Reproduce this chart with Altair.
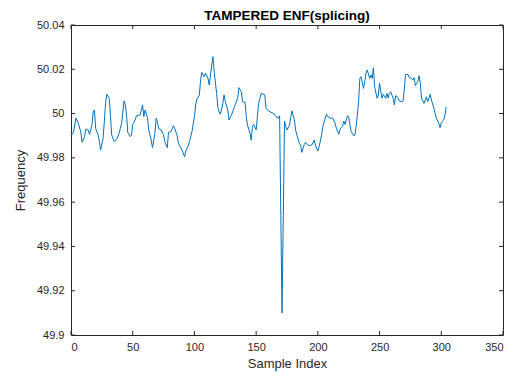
import altair as alt
import pandas as pd

# Sample index and frequency values
sample_index = [0, 2, 4, 6, 8, 9, 11, 12, 14, 15, 17, 18, 19, 20, 22, 23, 24, 26, 27, 28,
                29, 31, 32, 33, 35, 36, 37, 39, 40, 41, 43, 44, 45, 46, 48, 49, 50, 52, 53, 55,
                56, 58, 59, 60, 62, 63, 65, 66, 68, 69, 70, 71, 73, 75, 76, 78, 79, 81, 83, 84,
                86, 87, 90, 92, 93, 95, 96, 98, 100, 101, 102, 104, 105, 106, 108, 109, 111, 112, 114, 115,
                116, 118, 119, 120, 121, 123, 124, 125, 127, 128, 130, 132, 133, 135, 136, 138, 139, 141, 142, 143,
                145, 146, 147, 148, 150, 151, 152, 154, 155, 157, 158, 160, 162, 164, 166, 168, 169, 170, 171, 172,
                173, 174, 175, 177, 178, 179, 181, 182, 183, 185, 186, 187, 189, 190, 192, 193, 195, 197, 198, 200,
                201, 203, 204, 206, 207, 208, 210, 211, 212, 214, 215, 217, 218, 220, 221, 222, 224, 225, 226, 227,
                229, 230, 231, 232, 233, 234, 235, 237, 238, 239, 240, 242, 243, 244, 245, 246, 248, 249, 250, 251,
                252, 253, 255, 256, 257, 258, 259, 261, 262, 263, 265, 266, 268, 269, 270, 271, 273, 274, 276, 277,
                278, 279, 280, 281, 282, 283, 284, 286, 287, 288, 289, 290, 291, 292, 294, 295, 296, 298, 299, 300,
                302, 303, 304]
frequency = [49.9900, 49.9915, 49.9980, 49.9956, 49.9915, 49.9870, 49.9896, 49.9930, 49.9926, 49.9906,
             49.9948, 50.0008, 50.0016, 49.9933, 49.9903, 49.9873, 49.9835, 49.9888, 49.9963, 50.0046,
             50.0087, 50.0069, 49.9986, 49.9903, 49.9873, 49.9880, 49.9884, 49.9911, 49.9933, 49.9956,
             50.0057, 50.0042, 49.9993, 49.9915, 49.9896, 49.9903, 49.9951, 49.9971, 49.9990, 49.9992,
             49.9993, 50.0039, 49.9986, 50.0016, 49.9981, 49.9926, 49.9880, 49.9846, 49.9911, 49.9979,
             49.9963, 49.9933, 49.9926, 49.9906, 49.9873, 49.9846, 49.9915, 49.9918, 49.9945, 49.9933,
             49.9900, 49.9866, 49.9835, 49.9805, 49.9831, 49.9855, 49.9873, 49.9918, 49.9986, 50.0039,
             50.0065, 50.0084, 50.0152, 50.0186, 50.0167, 50.0182, 50.0159, 50.0129, 50.0219, 50.0257,
             50.0189, 50.0091, 50.0027, 50.0008, 49.9997, 50.0046, 50.0084, 50.0054, 50.0016, 49.9971,
             49.9993, 50.0024, 50.0039, 50.0069, 50.0117, 50.0099, 50.0054, 50.0051, 49.9986, 49.9948,
             49.9911, 49.9880, 49.9941, 49.9951, 49.9926, 49.9986, 50.0046, 50.0091, 50.0090, 50.0084,
             50.0024, 50.0012, 50.0006, 50.0001, 49.9986, 49.9979, 49.9990, 49.9540, 49.9100, 49.9540,
             49.9966, 49.9941, 49.9926, 49.9948, 49.9981, 50.0012, 49.9971, 49.9926, 49.9903, 49.9866,
             49.9858, 49.9825, 49.9861, 49.9870, 49.9858, 49.9855, 49.9858, 49.9880, 49.9858, 49.9831,
             49.9850, 49.9903, 49.9941, 49.9980, 49.9997, 49.9986, 49.9979, 49.9980, 49.9980, 49.9956,
             49.9933, 49.9906, 49.9930, 49.9941, 49.9966, 49.9951, 49.9990, 49.9986, 49.9948, 49.9918,
             49.9900, 49.9903, 49.9941, 49.9993, 50.0054, 50.0159, 50.0167, 50.0114, 50.0144, 50.0182,
             50.0197, 50.0159, 50.0174, 50.0159, 50.0207, 50.0121, 50.0069, 50.0084, 50.0137, 50.0099,
             50.0069, 50.0087, 50.0069, 50.0091, 50.0070, 50.0091, 50.0099, 50.0069, 50.0039, 50.0081,
             50.0072, 50.0057, 50.0054, 50.0057, 50.0106, 50.0177, 50.0177, 50.0162, 50.0159, 50.0152,
             50.0162, 50.0126, 50.0137, 50.0145, 50.0171, 50.0137, 50.0069, 50.0046, 50.0061, 50.0076,
             50.0054, 50.0069, 50.0087, 50.0061, 50.0024, 50.0001, 49.9979, 49.9956, 49.9936, 49.9960,
             49.9971, 49.9993, 50.0031]

x_ticks = [0, 50, 100, 150, 200, 250, 300, 350]
y_ticks = [49.9, 49.92, 49.94, 49.96, 49.98, 50.0, 50.02, 50.04]

TITLE = "TAMPERED ENF(splicing)"
FONT = "Liberation Sans"
AX = "#262626"
W, H = 432, 310

df = pd.DataFrame({"idx": sample_index, "freq": frequency})
xt = pd.DataFrame({"v": x_ticks})
yt = pd.DataFrame({"v": y_ticks})

xs = alt.Scale(domain=[0, 350], nice=False, zero=False)
ys = alt.Scale(domain=[49.9, 50.04], nice=False, zero=False)

line = alt.Chart(df).mark_line(color="#0072BD", strokeWidth=1).encode(
    x=alt.X("idx:Q", scale=xs, title="Sample Index",
            axis=alt.Axis(values=x_ticks, tickSize=0, labelPadding=6, titlePadding=5,
                          domain=False, grid=False, labelFontSize=11, titleFontSize=13,
                          titleFontWeight="normal", labelFont=FONT, titleFont=FONT,
                          labelColor=AX, titleColor=AX)),
    y=alt.Y("freq:Q", scale=ys, title="Frequency",
            axis=alt.Axis(values=y_ticks, format=".2~f", tickSize=0, labelPadding=7,
                          titlePadding=9, domain=False, grid=False, labelFontSize=11,
                          titleFontSize=13, titleFontWeight="normal", labelFont=FONT,
                          titleFont=FONT, labelColor=AX, titleColor=AX)),
)

tick_x_bottom = alt.Chart(xt).mark_rule(color=AX, strokeWidth=1).encode(
    x=alt.X("v:Q", scale=xs), y=alt.value(H), y2=alt.value(H - 4))
tick_x_top = alt.Chart(xt).mark_rule(color=AX, strokeWidth=1).encode(
    x=alt.X("v:Q", scale=xs), y=alt.value(0), y2=alt.value(4))
tick_y_left = alt.Chart(yt).mark_rule(color=AX, strokeWidth=1).encode(
    y=alt.Y("v:Q", scale=ys), x=alt.value(0), x2=alt.value(4))
tick_y_right = alt.Chart(yt).mark_rule(color=AX, strokeWidth=1).encode(
    y=alt.Y("v:Q", scale=ys), x=alt.value(W), x2=alt.value(W - 4))

chart = alt.layer(line, tick_x_bottom, tick_x_top, tick_y_left, tick_y_right).properties(
    width=W, height=H,
    title=alt.TitleParams(TITLE, fontSize=13.5, fontWeight="bold", font=FONT, color="#000000",
                          anchor="middle", offset=5, frame="group", dy=8),
    padding={"left": 63, "top": 17, "right": 6, "bottom": 41},
    autosize=alt.AutoSizeParams(type="none"),
    background="white",
).configure_view(stroke=AX, strokeWidth=1)

chart.save("out.html", embed_options={"renderer": "svg", "actions": False})
